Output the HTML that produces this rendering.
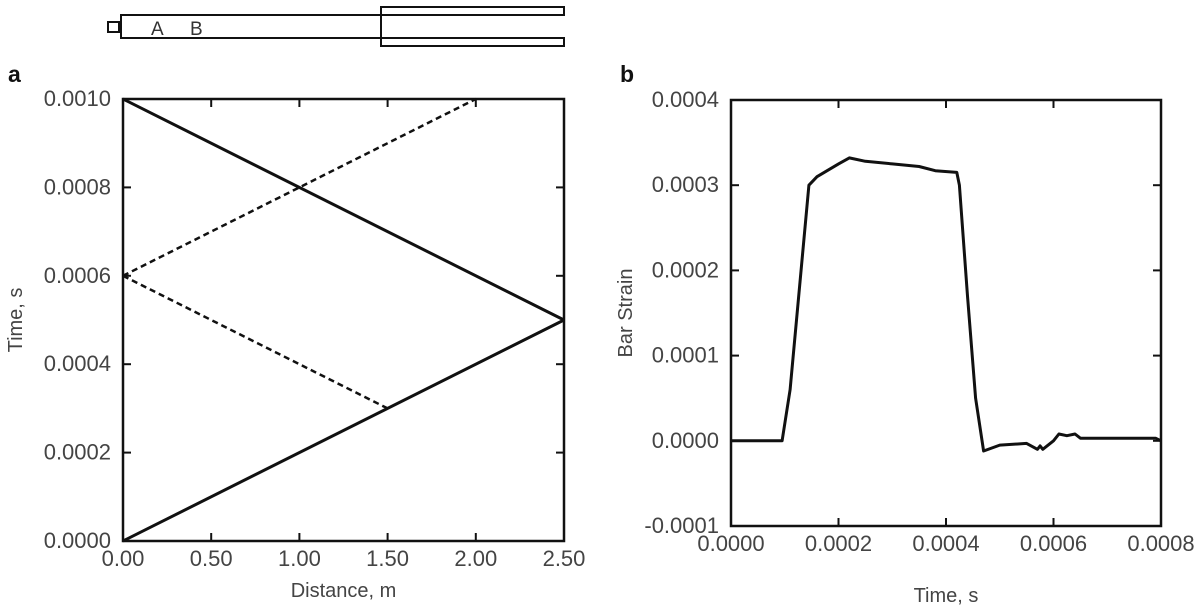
<!DOCTYPE html>
<html><head><meta charset="utf-8"><style>
body{margin:0;background:#fff;}
svg{display:block;font-family:"Liberation Sans",sans-serif;}
</style></head><body>
<svg id="svg" width="1197" height="609" viewBox="0 0 1197 609">
<g fill="none" stroke="#111" stroke-width="2">
<rect x="108" y="22" width="11" height="10"/>
<rect x="121" y="15" width="260" height="23"/>
<rect x="381" y="7" width="183" height="8"/>
<rect x="381" y="38" width="183" height="8"/>
<line x1="381" y1="7" x2="381" y2="46"/>
</g>
<text x="151" y="35" font-size="19" fill="#333">A</text>
<text x="190" y="35" font-size="19" fill="#333">B</text>
<text x="8" y="82" font-size="23" font-weight="bold" fill="#111">a</text>
<text x="620" y="82" font-size="23" font-weight="bold" fill="#111">b</text>
<g id="ca"></g><g id="cb"></g>
</svg>
<script>
const aXTicks=[0,0.5,1,1.5,2,2.5];
const aXLabels=["0.00","0.50","1.00","1.50","2.00","2.50"];
const aYTicks=[0,0.0002,0.0004,0.0006,0.0008,0.0010];
const aYLabels=["0.0000","0.0002","0.0004","0.0006","0.0008","0.0010"];
const solidX1=[0,2.5];const solidY1=[0.001,0.0005];
const solidX2=[0,2.5];const solidY2=[0,0.0005];
const dashX1=[0,2];const dashY1=[0.0006,0.001];
const dashX2=[0,1.5];const dashY2=[0.0006,0.0003];
const bXTicks=[0,0.0002,0.0004,0.0006,0.0008];
const bXLabels=["0.0000","0.0002","0.0004","0.0006","0.0008"];
const bYTicks=[-0.0001,0,0.0001,0.0002,0.0003,0.0004];
const bYLabels=["-0.0001","0.0000","0.0001","0.0002","0.0003","0.0004"];
const strainT=[0,0.00005,0.000095,0.00011,0.000145,0.00016,0.0002,0.00022,0.00025,0.0003,0.00035,0.00038,0.00042,0.000425,0.00044,0.000455,0.00047,0.0005,0.00055,0.00057,0.000575,0.00058,0.0006,0.00061,0.000625,0.00064,0.00065,0.0007,0.00079,0.0008];
const strainV=[0,0,0,0.00006,0.0003,0.00031,0.000325,0.000332,0.000328,0.000325,0.000322,0.000317,0.000315,0.0003,0.00017,0.00005,-0.000012,-0.000005,-0.000003,-0.00001,-0.000006,-0.00001,0,0.000008,0.000006,0.000008,0.000003,0.000003,0.000003,0];
const NS="http://www.w3.org/2000/svg";
function mk(p,t,a){const e=document.createElementNS(NS,t);for(const k in a)e.setAttribute(k,a[k]);p.appendChild(e);return e;}
function chart(g,L,R,T,B,xmin,xmax,ymin,ymax,xt,xl,yt,yl,xtitle,ytitle,ytx,xty,pfx){
 const sx=v=>L+(v-xmin)/(xmax-xmin)*(R-L), sy=v=>B-(v-ymin)/(ymax-ymin)*(B-T);
 const fr=mk(g,'rect',{x:L,y:T,width:R-L,height:B-T,fill:'none',stroke:'#111','stroke-width':2.5});
 
 
 xt.forEach((v,i)=>{const x=sx(v);
  mk(g,'line',{x1:x,y1:B,x2:x,y2:B-8,stroke:'#111','stroke-width':2});
  mk(g,'line',{x1:x,y1:T,x2:x,y2:T+8,stroke:'#111','stroke-width':2});
  const t=mk(g,'text',{x:x,y:B+25,'text-anchor':'middle','font-size':22,fill:'#444'});t.textContent=xl[i];
  
  });
 yt.forEach((v,i)=>{const y=sy(v);
  mk(g,'line',{x1:L,y1:y,x2:L+8,y2:y,stroke:'#111','stroke-width':2});
  mk(g,'line',{x1:R,y1:y,x2:R-8,y2:y,stroke:'#111','stroke-width':2});
  const t=mk(g,'text',{x:L-12,y:y+7,'text-anchor':'end','font-size':22,fill:'#444'});t.textContent=yl[i];
  
  });
 const xtt=mk(g,'text',{x:(L+R)/2,y:xty,'text-anchor':'middle','font-size':20,fill:'#444'});xtt.textContent=xtitle;
 
 
 const yc=(T+B)/2;
 const ytt=mk(g,'text',{x:ytx,y:yc,'text-anchor':'middle','font-size':20,fill:'#444',transform:`rotate(-90 ${ytx} ${yc})`});ytt.textContent=ytitle;
 
 
 return {sx,sy};
}
function line(g,s,xs,ys,dash,name){
 const d=xs.map((x,i)=>(i?'L':'M')+s.sx(x).toFixed(1)+' '+s.sy(ys[i]).toFixed(1)).join('');
 const p=mk(g,'path',{d:d,fill:'none',stroke:'#111','stroke-width':dash?2.5:3,'stroke-dasharray':dash?'6 4':'none','stroke-linejoin':'round'});
 
 
}
const ga=document.getElementById('ca'),gb=document.getElementById('cb');
const sa=chart(ga,123,564,99,541,0,2.5,0,0.001,aXTicks,aXLabels,aYTicks,aYLabels,'Distance, m','Time, s',22,597,'a');
line(ga,sa,solidX1,solidY1,false,'incident-wave-line');
line(ga,sa,solidX2,solidY2,false,'reflected-wave-line');
line(ga,sa,dashX1,dashY1,true,'dashed-wave-upper');
line(ga,sa,dashX2,dashY2,true,'dashed-wave-lower');
const sb=chart(gb,731,1161,100,526,0,0.0008,-0.0001,0.0004,bXTicks,bXLabels,bYTicks,bYLabels,'Time, s','Bar Strain',632,602,'b');
line(gb,sb,strainT,strainV,false,'bar-strain-line');
</script>
</body></html>
